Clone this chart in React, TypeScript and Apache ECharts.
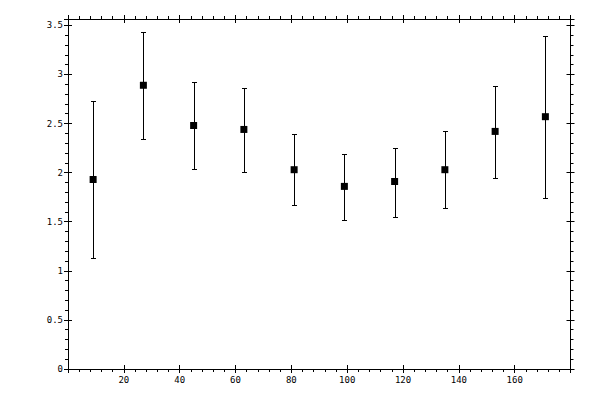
import * as echarts from 'echarts';
import { useEffect, useRef } from 'react';

// bin centres and measured values with their error range
const xValues = [9, 27, 45, 63, 81, 99, 117, 135, 153, 171];
const means = [1.93, 2.89, 2.48, 2.44, 2.03, 1.86, 1.91, 2.03, 2.42, 2.57];
const lowers = [1.135, 2.34, 2.04, 2.01, 1.67, 1.52, 1.55, 1.635, 1.95, 1.745];
const uppers = [2.725, 3.435, 2.92, 2.86, 2.395, 2.195, 2.255, 2.42, 2.885, 3.39];

const X_MIN = 0;
const X_MAX = 180;
const X_STEP = 20;
const Y_MIN = 0;
const Y_MAX = 3.565;
const Y_STEP = 0.5;

const black = '#000';
const labelFont = { fontFamily: 'DejaVu Sans Mono', fontSize: 9, color: black };

function outerAxis(kind: 'x' | 'y', position: string, labels: boolean) {
  const isX = kind === 'x';
  return {
    type: 'value',
    position,
    min: isX ? X_MIN : Y_MIN,
    max: isX ? X_MAX : Y_MAX,
    interval: isX ? X_STEP : Y_STEP,
    splitLine: { show: false },
    axisLine: { show: true, onZero: false, lineStyle: { color: black, width: 1 } },
    axisTick: { show: true, inside: false, length: 4, lineStyle: { color: black, width: 1 } },
    minorTick: { show: true, splitNumber: 5, length: 3, lineStyle: { color: black, width: 1 } },
    axisLabel: {
      show: labels,
      margin: isX ? 6 : 5,
      showMinLabel: !isX,
      showMaxLabel: false,
      ...labelFont,
    },
  };
}

function innerAxis(kind: 'x' | 'y', position: string) {
  const isX = kind === 'x';
  return {
    type: 'value',
    position,
    min: isX ? X_MIN : Y_MIN,
    max: isX ? X_MAX : Y_MAX,
    interval: isX ? X_STEP : Y_STEP,
    splitLine: { show: false },
    axisLine: { show: false, onZero: false },
    axisTick: { show: true, inside: true, length: 4, lineStyle: { color: black, width: 1 } },
    minorTick: { show: false },
    axisLabel: { show: false },
  };
}

export default function App() {
  const chartRef = useRef<HTMLDivElement>(null);

  useEffect(() => {
    if (!chartRef.current) return;
    const chart = echarts.init(chartRef.current, null, { renderer: 'svg' });

    const barData = xValues.map((x, i) => [x, lowers[i], uppers[i]]);
    const pointData = xValues.map((x, i) => [x, means[i]]);

    chart.setOption({
      animation: false,
      backgroundColor: '#fff',
      grid: { left: 68, right: 29.5, top: 19, bottom: 31, containLabel: false },
      xAxis: [
        outerAxis('x', 'bottom', true),
        outerAxis('x', 'top', false),
        innerAxis('x', 'bottom'),
        innerAxis('x', 'top'),
      ],
      yAxis: [
        outerAxis('y', 'left', true),
        outerAxis('y', 'right', false),
        innerAxis('y', 'left'),
        innerAxis('y', 'right'),
      ],
      series: [
        {
          type: 'custom',
          xAxisIndex: 0,
          yAxisIndex: 0,
          encode: { x: 0, y: [1, 2] },
          data: barData,
          silent: true,
          renderItem: (_params: any, api: any) => {
            const x = api.value(0);
            const top = api.coord([x, api.value(2)]);
            const bot = api.coord([x, api.value(1)]);
            const cx = Math.round(top[0]) + 0.5;
            const ty = Math.round(top[1]) + 0.5;
            const by = Math.round(bot[1]) + 0.5;
            const hw = 2.5;
            const style = { stroke: black, lineWidth: 1 };
            return {
              type: 'group',
              children: [
                { type: 'line', shape: { x1: cx, y1: ty, x2: cx, y2: by }, style },
                { type: 'line', shape: { x1: cx - hw, y1: ty, x2: cx + hw, y2: ty }, style },
                { type: 'line', shape: { x1: cx - hw, y1: by, x2: cx + hw, y2: by }, style },
              ],
            };
          },
          z: 2,
        },
        {
          type: 'scatter',
          xAxisIndex: 0,
          yAxisIndex: 0,
          data: pointData,
          symbol: 'rect',
          symbolSize: 7,
          itemStyle: { color: black, opacity: 1 },
          silent: true,
          z: 3,
        },
      ],
    });

    return () => {
      chart.dispose();
    };
  }, []);

  return (
    <div
      ref={chartRef}
      style={{ position: 'fixed', left: 0, top: 0, width: '600px', height: '400px' }}
    />
  );
}
